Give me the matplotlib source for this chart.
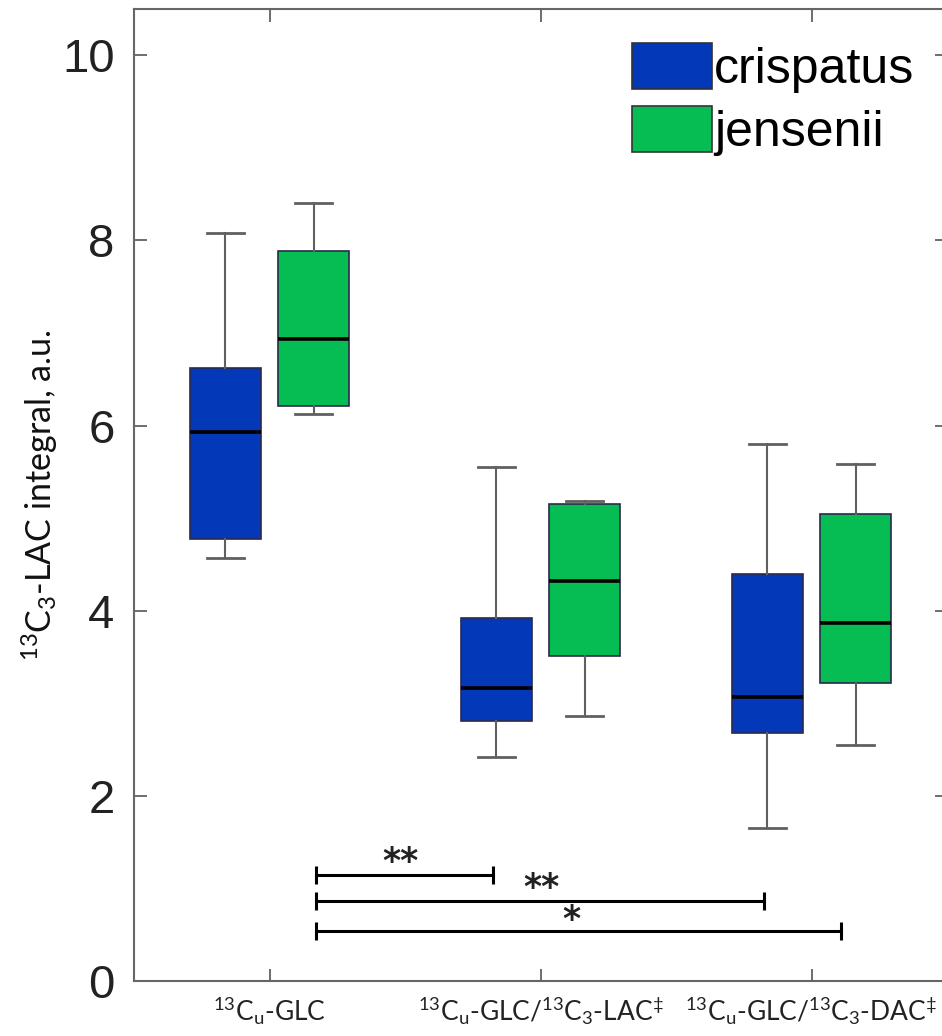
import matplotlib
matplotlib.use("Agg")
import matplotlib.pyplot as plt
from matplotlib.patches import Patch

plt.rcParams["mathtext.default"] = "regular"

# ---- data ----
categories = [r"$^{13}$C$_u$-GLC",
              r"$^{13}$C$_u$-GLC/$^{13}$C$_3$-LAC$^{‡}$",
              r"$^{13}$C$_u$-GLC/$^{13}$C$_3$-DAC$^{‡}$"]
series = ["crispatus", "jensenii"]
# per group: whisker low, Q1, median, Q3, whisker high
crispatus_low = [4.57, 2.42, 1.65]
crispatus_q1 = [4.78, 2.81, 2.68]
crispatus_med = [5.93, 3.16, 3.07]
crispatus_q3 = [6.62, 3.92, 4.40]
crispatus_high = [8.08, 5.55, 5.80]
jensenii_low = [6.13, 2.86, 2.55]
jensenii_q1 = [6.21, 3.51, 3.22]
jensenii_med = [6.94, 4.32, 3.87]
jensenii_q3 = [7.89, 5.15, 5.05]
jensenii_high = [8.40, 5.18, 5.58]
# significance brackets: x start, x end, y, label
sig_x0 = [1.173, 1.173, 1.173]
sig_x1 = [1.823, 2.823, 3.110]
sig_y = [1.145, 0.864, 0.540]
sig_labels = ["**", "**", "*"]
sig_text_x = [1.483, 2.004, 2.114]
sig_text_y = [1.285, 1.005, 0.66]
yticks = [0, 2, 4, 6, 8, 10]

colors = {"crispatus": "#0339B8", "jensenii": "#06BD54"}

fig = plt.figure(figsize=(9.42, 10.36), dpi=100)
ax = fig.add_axes([0.1423, 0.0531, 0.863, 0.9382])

def stats(low, q1, med, q3, high):
    return [dict(whislo=a, q1=b, med=c, q3=d, whishi=e, fliers=[])
            for a, b, c, d, e in zip(low, q1, med, q3, high)]

offset = 0.163
bw = 0.26
for name, st, sign in [("crispatus", stats(crispatus_low, crispatus_q1, crispatus_med, crispatus_q3, crispatus_high), -1),
                       ("jensenii", stats(jensenii_low, jensenii_q1, jensenii_med, jensenii_q3, jensenii_high), 1)]:
    pos = [i + 1 + sign * offset for i in range(len(st))]
    ax.bxp(st, positions=pos, widths=bw, patch_artist=True, showfliers=False,
           capwidths=bw * 0.52,
           boxprops=dict(facecolor=colors[name], edgecolor="#2a2a4a", linewidth=1.2),
           medianprops=dict(color="black", linewidth=2.6),
           whiskerprops=dict(color="#606060", linewidth=1.5),
           capprops=dict(color="#606060", linewidth=2.0),
           manage_ticks=False)

for x0, x1, y in zip(sig_x0, sig_x1, sig_y):
    ax.plot([x0, x1], [y, y], color="black", lw=2.2, marker="|", markersize=13, mew=2.2)
for lab, tx, ty in zip(sig_labels, sig_text_x, sig_text_y):
    ax.text(tx, ty, lab, ha="center", va="center", fontsize=25, fontweight="bold",
            color="#222222", family=["DejaVu Sans"])

ax.set_xlim(0.5, 3.5)
ax.set_ylim(0, 10.5)
ax.set_yticks(yticks)
ax.set_yticklabels([str(t) for t in yticks], fontsize=34, family="Liberation Sans", color="#222222")
ax.set_xticks([1, 2, 3])
ax.set_xticklabels(categories, fontsize=19, family=["Lato", "DejaVu Sans"], color="#222222")
ax.tick_params(axis="both", direction="in", top=True, right=True, length=9, width=1.2, color="#555555")
ax.tick_params(axis="y", pad=14)
ax.tick_params(axis="x", pad=10)
for s in ax.spines.values():
    s.set_color("#666666")
    s.set_linewidth(1.5)

ax.set_ylabel(r"$^{13}$C$_3$-LAC integral, a.u.", fontsize=24.5, family=["Lato", "DejaVu Sans"],
              color="#111111")
ax.yaxis.set_label_coords(-0.091, 0.5)

handles = [Patch(facecolor=colors[s], edgecolor="#333333", linewidth=1.2) for s in series]
ax.legend(handles, series, loc="upper left", bbox_to_anchor=(0.612, 0.965), frameon=False,
          prop=dict(family="Liberation Sans", size=36), handlelength=1.6, handleheight=1.05,
          handletextpad=0.05, borderpad=0, borderaxespad=0, labelspacing=0.25)

fig.savefig("out.png", dpi=100)
